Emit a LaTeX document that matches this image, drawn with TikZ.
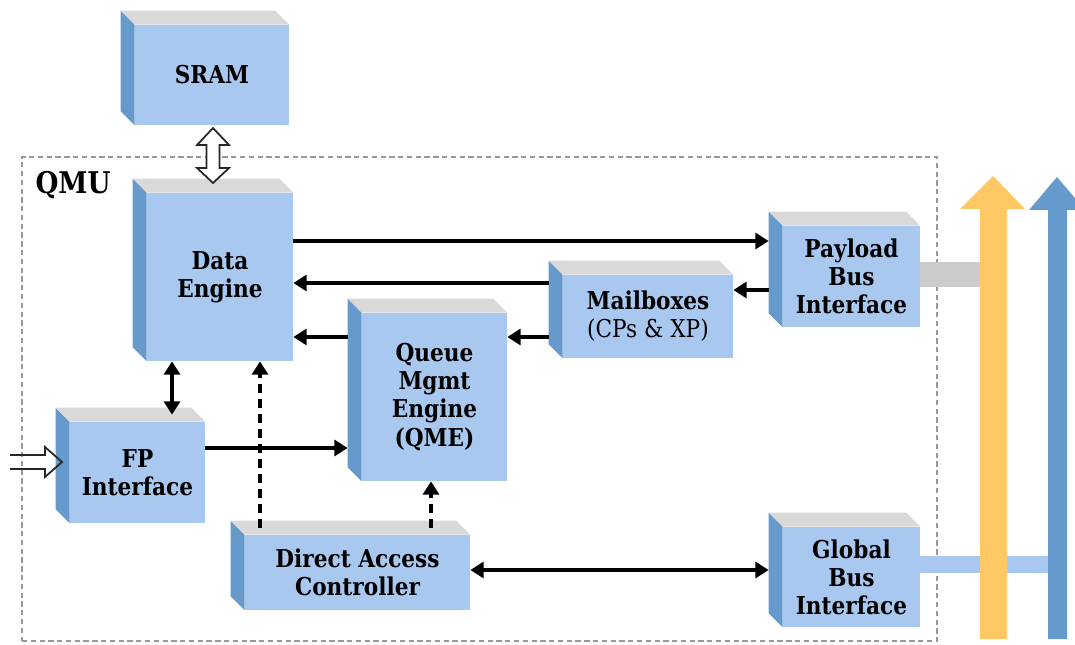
\documentclass[tikz,border=0pt]{standalone}
\usepackage{fontspec}
\setmainfont{DejaVu Serif}[FakeStretch=0.88]
\usetikzlibrary{arrows.meta,calc}
\definecolor{frontc}{HTML}{A8C8F0}
\definecolor{sidec}{HTML}{6699CC}
\definecolor{topc}{HTML}{D9D9D9}
\definecolor{yel}{HTML}{FFC864}
\definecolor{busblue}{HTML}{6699CC}
\definecolor{barg}{HTML}{CCCCCC}
\tikzset{
 qbox/.style={fill=frontc, inner sep=0pt, align=center, font=\bfseries\fontsize{14}{16}\selectfont},
 arr/.style={line width=1.9pt, -{Triangle[length=7.5pt,width=9pt]}},
 darr/.style={line width=1.9pt, {Triangle[length=7.5pt,width=9pt]}-{Triangle[length=7.5pt,width=9pt]}},
 dsh/.style={arr, dash pattern=on 5pt off 3.5pt},
 hollow/.style={draw=black!85, line width=1pt},
 frame/.style={draw=black!40, line width=1.2pt, dash pattern=on 3pt off 2pt, inner sep=0pt},
}
\newcommand\mkbox[6]{%
 \node[qbox, minimum width={(#4-#2)*0.02cm}, minimum height={(#5-#3)*0.02cm}] (#1) at ({(#2+#4)/2},{(#3+#5)/2}) {#6};
 \fill[sidec] (#1.north west) -- ++(-14,-14) -- ($(#1.south west)+(-14,-14)$) -- (#1.south west) -- cycle;
 \fill[topc] (#1.north west) -- ++(-14,-14) -- ($(#1.north east)+(-14,-14)$) -- (#1.north east) -- cycle;
 \coordinate (#1-bw) at ($(#1.west)+(-14,0)$);
 \coordinate (#1-tm) at ($(#1.north)+(0,-7)$);
}
\begin{document}
\begin{tikzpicture}[x=0.02cm,y=-0.02cm]
\useasboundingbox (0,0) rectangle (1075,645);
\clip (0,0) rectangle (1075,645);
% QMU frame
\node[frame, minimum width={915*0.02cm}, minimum height={484*0.02cm}] (qmu) at (479.5,399) {};
\node[font=\bfseries\fontsize{17}{20}\selectfont] (qmulabel) at (73,185) {QMU};
% boxes
\mkbox{sram}{135}{25}{289}{125}{SRAM}
\mkbox{de}{147}{193}{293}{361}{Data\\Engine}
\mkbox{pb}{783}{226}{920}{327}{Payload\\Bus\\Interface}
\mkbox{mb}{563}{275}{733}{358}{Mailboxes\\\mdseries (CPs \& XP)}
\mkbox{qme}{362}{313}{507}{481}{Queue\\Mgmt\\Engine\\(QME)}
\mkbox{fp}{70}{422}{205}{523}{FP\\Interface}
\mkbox{dac}{245}{535}{470}{610}{Direct Access\\Controller}
\mkbox{gb}{783}{527}{920}{627}{Global\\Bus\\Interface}
% bus bars
\fill[barg] (pb.east |- 0,262) rectangle (980,287);
\fill[frontc] (gb.east |- 0,556) rectangle (1048,573);
% big bus arrows
\fill[yel] (980,639) -- (980,209) -- (960,209) -- (993,176) -- (1025,209) -- (1007,209) -- (1007,639) -- cycle;
\fill[busblue] (1048,639) -- (1048,210) -- (1029,210) -- (1057,177) -- (1085,210) -- (1067,210) -- (1067,639) -- cycle;
% hollow arrows
\filldraw[hollow, fill=white] (213,128) -- (229,145) -- (219.5,145) -- (219.5,168) -- (229,168) -- (213,183) -- (197,168) -- (206.5,168) -- (206.5,145) -- (197,145) -- cycle;
\draw[hollow] (10,455) -- (45,455) -- (45,447) -- (62,462) -- (45,477) -- (45,469) -- (10,469);
% connectors
\draw[arr] (de.east |- 0,241) -- (pb-bw |- 0,241);
\draw[arr] (pb-bw |- 0,290) -- (mb.east |- 0,290);
\draw[arr] (mb-bw |- 0,283) -- (de.east |- 0,283);
\draw[arr] (mb-bw |- 0,337) -- (qme.east |- 0,337);
\draw[arr] (qme-bw |- 0,337) -- (de.east |- 0,337);
\draw[darr] (de.south -| 172,0) -- (fp-tm -| 172,0);
\draw[arr] (fp.east |- 0,448) -- (qme-bw |- 0,448);
\draw[dsh] (dac-tm -| 260,0) -- (de.south -| 260,0);
\draw[dsh] (dac-tm -| 431,0) -- (qme.south -| 431,0);
\draw[darr] (dac.east |- 0,570) -- (gb-bw |- 0,570);
\end{tikzpicture}
\end{document}
